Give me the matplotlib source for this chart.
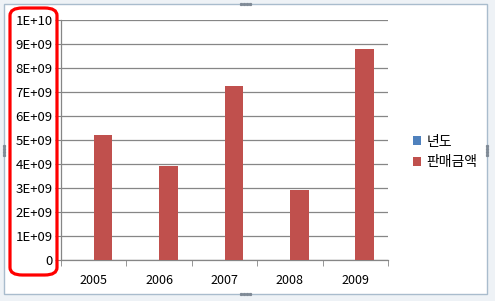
import matplotlib.pyplot as plt
import numpy as np
from matplotlib.patches import FancyBboxPatch, Rectangle
from matplotlib.lines import Line2D

plt.rcParams['font.family'] = ['Noto Sans CJK KR', 'DejaVu Sans']

years = ['2005', '2006', '2007', '2008', '2009']
year_vals = [2005, 2006, 2007, 2008, 2009]
sales = [5.22e9, 3.9e9, 7.27e9, 2.93e9, 8.8e9]
y_ticks = np.arange(0, 11) * 1e9
y_labels = ['0', '1E+09', '2E+09', '3E+09', '4E+09', '5E+09', '6E+09', '7E+09', '8E+09', '9E+09', '1E+10']

W, H = 495, 301
fig = plt.figure(figsize=(W / 100, H / 100), dpi=100)
fig.patch.set_facecolor('#eef2f6')


def px(x, y):
    return x / W, 1 - y / H


# chart area frame
fig.patches.append(Rectangle(px(4, 294), 483 / W, 290 / H, transform=fig.transFigure,
                             facecolor='white', edgecolor='#a9bccd', linewidth=1.0, zorder=-5))

ax = fig.add_axes([61 / W, 1 - 260 / H, (388 - 61) / W, (260 - 20) / H])
ax.set_facecolor('none')

x = np.arange(len(years))
w = 1 / 3.5
ax.bar(x - w / 2, year_vals, w, color='#4f81bd', label='년도', zorder=3)
ax.bar(x + w / 2, sales, w, color='#c0504d', label='판매금액', zorder=3)

ax.set_xlim(-0.5, 4.5)
ax.set_ylim(0, 1e10)
ax.set_yticks(y_ticks)
ax.set_yticklabels(y_labels)
ax.set_xticks(x)
ax.set_xticklabels(years)
ax.set_xticks(np.arange(-0.5, 5.0, 1), minor=True)
ax.tick_params(axis='x', which='major', length=0, pad=10, labelsize=9)
ax.tick_params(axis='x', which='minor', length=4, direction='out', color='#868686')
ax.tick_params(axis='y', length=4, direction='out', color='#868686', labelsize=9.5, pad=2)
ax.grid(axis='y', color='#868686', linewidth=0.9, zorder=0)
for s in ['top', 'right']:
    ax.spines[s].set_visible(False)
for s in ['left', 'bottom']:
    ax.spines[s].set_color('#868686')
    ax.spines[s].set_linewidth(0.9)

fig.legend(loc='center left', bbox_to_anchor=px(400, 152), frameon=False, fontsize=10,
           handlelength=0.6, handleheight=0.6, handletextpad=0.4, labelspacing=0.5)

# red highlight box around y labels
x0, y0 = px(10, 275)
fig.patches.append(FancyBboxPatch((x0, y0), 47 / W, 267 / H, transform=fig.transFigure,
                                  boxstyle='round,pad=0,rounding_size=0.025', facecolor='none',
                                  edgecolor='#ff0000', linewidth=2.3, zorder=10))

# resize handles
for cx, cy, horiz in [(245, 4, True), (245, 294, True), (4, 150, False), (487, 150, False)]:
    for k in range(-2, 2):
        dx, dy = (k * 3 + 1.5, 0) if horiz else (0, k * 3 + 1.5)
        fig.lines.append(Line2D([(cx + dx) / W], [1 - (cy + dy) / H], transform=fig.transFigure,
                                marker='s', markersize=1.3, color='#7f8a96', linestyle='none'))

fig.savefig('out.png', dpi=100)
